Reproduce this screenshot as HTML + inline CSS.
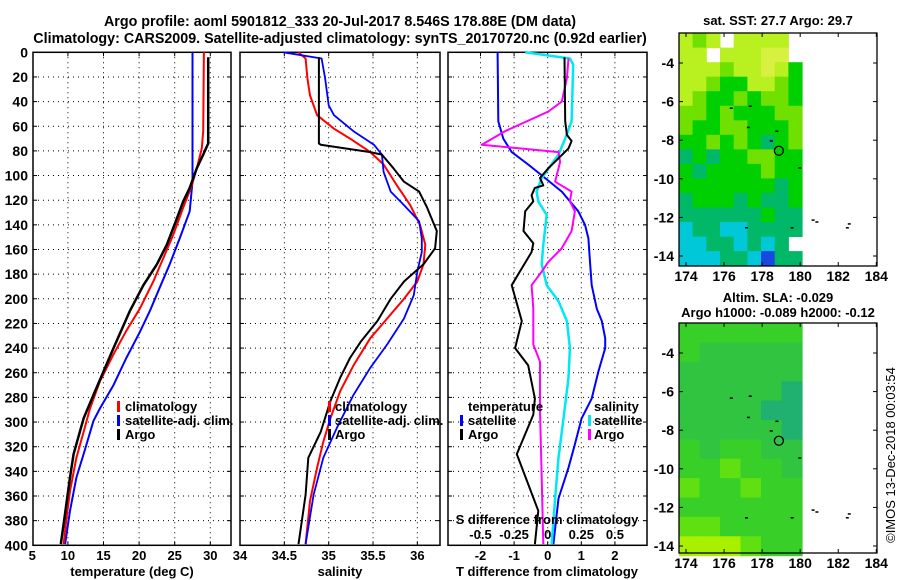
<!DOCTYPE html>
<html><head><meta charset="utf-8"><style>
body{margin:0;background:#fff}
svg{display:block;font-family:"Liberation Sans",sans-serif;font-weight:bold}
</style></head><body>
<svg id="c" width="900" height="580" xmlns="http://www.w3.org/2000/svg"></svg>
<script>
// ---- data ----
const depthTicks=[0,20,40,60,80,100,120,140,160,180,200,220,240,260,280,300,320,340,360,380,400];
const tempTicks=[5,10,15,20,25,30];
const salTicks=[34,34.5,35,35.5,36];
const salTickLabels=["34","34.5","35","35.5","36"];
const dTTicks=[-2,-1,0,1,2];
const dSTickLabels=["-0.5","-0.25","0","0.25","0.5"];
const dSTicks=[-0.5,-0.25,0,0.25,0.5];
const tempSatD=[0,105,129,151,172,191,210,227,248,270,289,299,326,345,372,399];
const tempSatV=[27.5,27.5,27.1,25.7,24.3,22.9,21.5,20.1,18.2,16.4,14.5,13.6,12.2,11.2,10.3,9.6];
const tempClimD=[0,64,78,94,108,126,148,167,186,208,226,245,267,289,308,329,356,378,399];
const tempClimV=[29.1,29.0,28.8,28.1,27.4,26.2,24.8,23.4,22.0,20.1,18.2,16.4,14.5,13.1,12.2,11.2,10.3,9.8,9.4];
const tempArgoD=[4,74,83,94,110,121,135,156,172,189,210,240,259,278,297,326,345,383,399];
const tempArgoV=[29.7,29.7,29.0,28.1,27.1,26.2,25.3,23.9,22.5,20.6,18.7,16.4,15.0,13.6,12.2,10.8,10.3,9.4,9.0];
const salClimD=[0,5,21,35,51,62,70,81,91,108,124,140,156,172,186,200,216,232,254,275,297,316,337,364,399];
const salClimV=[34.66,34.74,34.76,34.79,34.87,35.06,35.24,35.47,35.62,35.77,35.92,36.03,36.09,36.07,36.0,35.85,35.66,35.47,35.28,35.13,35.02,34.94,34.87,34.79,34.74];
const salSatD=[0,5,21,43,51,64,75,83,97,113,124,137,151,162,178,197,216,237,256,278,305,329,359,399];
const salSatV=[34.49,34.92,34.96,35.0,35.06,35.28,35.51,35.6,35.62,35.70,35.85,36.02,36.05,36.05,36.0,35.96,35.85,35.66,35.47,35.28,35.09,34.94,34.83,34.74];
const salArgoD=[4,74,75,81,83,94,105,113,126,145,159,172,186,200,218,235,248,264,283,308,329,359,399];
const salArgoV=[34.89,34.89,34.91,35.47,35.6,35.73,35.85,36.02,36.11,36.22,36.2,36.07,35.85,35.70,35.55,35.36,35.24,35.13,35.02,34.91,34.77,34.74,34.66];
const dTSatD=[0,56,70,81,91,102,113,129,140,151,170,189,208,218,232,240,259,281,297,318,337,362,399];
const dTSatV=[-1.49,-1.47,-1.32,-1.07,-0.58,-0.08,0.42,0.91,1.11,1.21,1.26,1.31,1.46,1.61,1.71,1.71,1.51,1.31,1.01,0.81,0.62,0.32,0.17];
const dSSatD=[0,5,10,56,70,83,102,113,121,132,156,172,189,202,218,240,264,297,329,362,399];
const dSSatV=[-0.67,0.66,0.76,0.71,0.52,0.32,-0.18,-0.33,-0.28,-0.03,-0.13,-0.18,-0.03,0.32,0.57,0.66,0.62,0.47,0.32,0.22,0.12];
const dSArgoD=[5,21,40,48,64,75,81,89,105,113,121,129,145,159,170,178,189,208,237,251,291,345,399];
const dSArgoV=[0.62,0.57,0.42,0.02,-1.27,-1.96,0.32,0.37,0.22,0.71,0.66,0.81,0.71,0.42,0.02,-0.18,-0.48,-0.43,-0.43,-0.23,-0.23,-0.18,-0.13];
const dTArgoD=[4,56,67,72,78,86,94,102,108,110,116,121,129,145,155,162,189,218,240,254,281,294,326,372,399];
const dTArgoV=[0.50,0.52,0.57,0.71,0.62,0.32,0.02,-0.23,-0.13,-0.38,-0.48,-0.43,-0.67,-0.72,-0.43,-0.48,-1.07,-0.77,-0.97,-0.58,-0.38,-0.43,-0.92,-0.28,-0.38];
const lonTicks=[174,176,178,180,182,184];
const latTicks=[-4,-6,-8,-10,-12,-14];
const sstGrid=[
[5,4,5,-1,5,5,5,5,-1],[5,5,-1,5,5,5,6,6,-1],[5,5,5,4,5,5,6,5,3],[5,5,4,3,3,5,5,4,3],
[5,4,3,3,4,3,4,4,3],[4,4,3,4,3,3,3,4,4],[4,3,3,4,4,3,3,3,4],[3,3,4,3,4,3,2,3,4],
[2,3,2,3,3,4,4,3,3],[3,2,3,3,3,3,4,3,3],[3,3,3,3,3,3,3,2,3],[2,3,3,3,2,3,2,2,3],
[2,2,2,2,2,2,3,2,2],[1,2,2,1,1,2,2,2,2],[1,1,2,2,1,2,1,2,-1],[1,1,1,2,2,1,0,2,2]];
const slaGrid=[
[2,2,2,2,2,2],[2,1,1,1,1,1],[1,1,1,1,1,1],[1,1,1,1,1,0],[1,1,1,1,0,0],[1,1,1,1,1,0],
[2,1,2,2,1,1],[2,2,3,2,2,1],[3,2,2,3,2,2],[2,2,2,2,2,2],[3,3,2,2,2,2],[4,4,4,3,2,2]];
const argoLon=178.88, argoLat=-8.546;

const NS="http://www.w3.org/2000/svg";
const svg=document.getElementById('c');
function mk(tag,attrs,parent){const e=document.createElementNS(NS,tag);for(const k in attrs)e.setAttribute(k,attrs[k]);(parent||svg).appendChild(e);return e;}
function txt(x,y,s,size,anchor,parent){const t=mk('text',{x:x,y:y,'font-size':size,'text-anchor':anchor||'middle'},parent);t.textContent=s;return t;}
const Y=d=>52.3+d*1.2325;
const X1=t=>32.3+(t-5)*7.12;
const X2=s=>240+(s-34)*88.67;
const X3=v=>547.7+v*33.6;
const panels=[{x0:33,x1:231,name:'temperature-panel'},{x0:240,x1:440,name:'salinity-panel'},{x0:448,x1:647,name:'difference-panel'}];
const gridV=[[10,15,20,25,30].map(X1),[34.5,35,35.5,36].map(X2),dTTicks.map(X3)];

panels.forEach((p,i)=>{
  const g=mk('g',{});
  
  
  depthTicks.slice(1,-1).forEach(d=>{mk('line',{x1:p.x0,x2:p.x1,y1:Y(d),y2:Y(d),stroke:'#000','stroke-width':1,'stroke-dasharray':'1,4'},g);
    mk('line',{x1:p.x0,x2:p.x0+4,y1:Y(d),y2:Y(d),stroke:'#000'},g);mk('line',{x1:p.x1-4,x2:p.x1,y1:Y(d),y2:Y(d),stroke:'#000'},g);});
  gridV[i].forEach(x=>{mk('line',{x1:x,x2:x,y1:Y(0),y2:Y(400),stroke:'#000','stroke-width':1,'stroke-dasharray':'1,4'},g);
    mk('line',{x1:x,x2:x,y1:Y(400)-4,y2:Y(400),stroke:'#000'},g);mk('line',{x1:x,x2:x,y1:Y(0),y2:Y(0)+4,stroke:'#000'},g);});
  mk('rect',{x:p.x0,y:Y(0),width:p.x1-p.x0,height:Y(400)-Y(0),fill:'none',stroke:'#000','stroke-width':1.5},g);
});

function line(D,V,X,color,w,name){
  const pts=D.map((d,i)=>X(V[i]).toFixed(1)+','+Y(d).toFixed(1)).join(' ');
  const e=mk('polyline',{points:pts,fill:'none',stroke:color,'stroke-width':w,'stroke-linejoin':'round'});
  
  
}
line(tempSatD,tempSatV,X1,'#0000ff',2,'temp-satellite-line');
line(tempClimD,tempClimV,X1,'#ff0000',2,'temp-climatology-line');
line(tempArgoD,tempArgoV,X1,'#000',2.5,'temp-argo-line');
line(salClimD,salClimV,X2,'#ff0000',2,'sal-climatology-line');
line(salSatD,salSatV,X2,'#0000ff',1.8,'sal-satellite-line');
line(salArgoD,salArgoV,X2,'#000',2,'sal-argo-line');
line(dTSatD,dTSatV,X3,'#0000ff',2,'dT-satellite-line');
line(dSSatD,dSSatV,X3,'#00e8f0',2.5,'dS-satellite-line');
line(dSArgoD,dSArgoV,X3,'#ff00ff',2,'dS-argo-line');
line(dTArgoD,dTArgoV,X3,'#000',2,'dT-argo-line');

depthTicks.forEach(d=>{const t=txt(28,Y(d)+5,String(d),14,'end');});
tempTicks.forEach(v=>{const t=txt(X1(v),560,String(v),13);});
salTicks.forEach((v,i)=>{const t=txt(X2(v),560,salTickLabels[i],13);});
dTTicks.forEach(v=>{const t=txt(X3(v),560,String(v),13);});
dSTicks.forEach((v,i)=>{const t=txt(X3(v*4),539,dSTickLabels[i],13);});
</script>
<script>
(function(){
const svg=document.getElementById('c');
function T(x,y,s,size,anchor,name,extra){const t=document.createElementNS("http://www.w3.org/2000/svg",'text');t.setAttribute('x',x);t.setAttribute('y',y);t.setAttribute('font-size',size);t.setAttribute('text-anchor',anchor);if(extra)for(const k in extra)t.setAttribute(k,extra[k]);t.textContent=s;


svg.appendChild(t);return t;}
function B(x,y,c){const r=document.createElementNS("http://www.w3.org/2000/svg",'rect');r.setAttribute('x',x);r.setAttribute('y',y);r.setAttribute('width',3);r.setAttribute('height',11);r.setAttribute('fill',c);


svg.appendChild(r);}
T(340,26,'Argo profile: aoml 5901812_333 20-Jul-2017 8.546S 178.88E (DM data)',14.3,'middle','title-line-1');
T(340,43,'Climatology: CARS2009. Satellite-adjusted climatology: synTS_20170720.nc (0.92d earlier)',14.3,'middle','title-line-2');
T(132,576,'temperature (deg C)',13,'middle','x-axis-title-temperature');
T(340,576,'salinity',13,'middle','x-axis-title-salinity');
T(547,576,'T difference from climatology',13,'middle','x-axis-title-dT');
T(547,524,'S difference from climatology',13,'middle','x-axis-title-dS');
[['climatology','#f00'],['satellite-adj. clim.','#00f'],['Argo','#000']].forEach((l,i)=>{B(117,401+i*14,l[1]);T(125,411+i*14,l[0],13,'start','legend-temp-'+i);});
[['climatology','#f00'],['satellite-adj. clim.','#00f'],['Argo','#000']].forEach((l,i)=>{B(328,401+i*14,l[1]);T(335,411+i*14,l[0],13,'start','legend-sal-'+i);});
T(468,411,'temperature',13,'start','legend-dT-heading');
B(460,415,'#00f');T(468,425,'satellite',13,'start','legend-dT-sat');
B(460,429,'#000');T(468,439,'Argo',13,'start','legend-dT-argo');
T(594,411,'salinity',13,'start','legend-dS-heading');
B(588,415,'#00e8f0');T(594,425,'satellite',13,'start','legend-dS-sat');
B(588,429,'#f0f');T(594,439,'Argo',13,'start','legend-dS-argo');
T(778,25,'sat. SST: 27.7 Argo: 29.7',13,'middle','sst-map-title');
T(778,302,'Altim. SLA: -0.029',13,'middle','sla-map-title');
T(778,317,'Argo h1000: -0.089 h2000: -0.12',13,'middle','sla-map-subtitle');
T(0,0,'©IMOS 13-Dec-2018 00:03:54',13,'middle','timestamp',{transform:'translate(895,455) rotate(-90)','font-weight':'normal'});
})();
</script>
<script>
(function(){
const NS="http://www.w3.org/2000/svg";
const svg=document.getElementById('c');
function mk(tag,a,p){const e=document.createElementNS(NS,tag);for(const k in a)e.setAttribute(k,a[k]);(p||svg).appendChild(e);return e;}
const sstCol=['#1848e0','#00c8d8','#00b868','#00d000','#70e000','#b8f020','#d8f040'];
const slaCol=['#20b070','#30c440','#38d028','#60e010','#a8f000'];
const maps=[{y0:33,y1:266,latAt:(l)=>63+(-4-l)*19.3,grid:sstGrid,col:sstCol,name:'sst-map'},
            {y0:323,y1:553,latAt:(l)=>353+(-4-l)*19.3,grid:slaGrid,col:slaCol,name:'sla-map'}];
const LX=l=>686+(l-174)*19.03;
maps.forEach(m=>{
  const g=mk('g',{});
  
  
  const rows=m.grid.length, cols=m.grid[0].length;
  const latTop=-2.45, latBot=-14.5, lonL=173.63, lonR=180.1;
  const dLat=(latTop-latBot)/rows, dLon=(lonR-lonL)/cols;
  m.grid.forEach((row,r)=>row.forEach((v,c)=>{
    if(v<0)return;
    const x=LX(lonL+c*dLon), y=m.latAt(latTop-r*dLat);
    const cell=mk('rect',{x:x.toFixed(1),y:y.toFixed(1),width:(LX(lonL+(c+1)*dLon)-x+0.5).toFixed(1),height:(m.latAt(latTop-(r+1)*dLat)-y+0.5).toFixed(1),fill:m.col[v]},g);
    
    
  }));
  [[180.6,-12.1],[180.8,-12.2],[182.5,-12.3],[182.4,-12.5],[179.5,-12.5],[177.1,-12.5],[179.9,-9.4],[178.4,-8],[178.7,-7.5],[177.2,-7.3],[177.3,-6.2],[176.3,-6.3]].forEach(p=>{
    mk('rect',{x:LX(p[0]),y:m.latAt(p[1]),width:3,height:1.5,fill:'#000'},g);});
  const circ=mk('circle',{cx:LX(argoLon),cy:m.latAt(argoLat),r:4.5,fill:'none',stroke:'#000','stroke-width':1.3},g);
  
  
  mk('rect',{x:679,y:m.y0,width:198,height:m.y1-m.y0,fill:'none',stroke:'#000','stroke-width':1.3},g);
  lonTicks.forEach(l=>{mk('line',{x1:LX(l),x2:LX(l),y1:m.y1,y2:m.y1-4,stroke:'#000'},g);mk('line',{x1:LX(l),x2:LX(l),y1:m.y0,y2:m.y0+4,stroke:'#000'},g);
    const t=mk('text',{x:LX(l),y:m.y1+15,'font-size':14,'text-anchor':'middle'},g);t.textContent=String(l);
    
    });
  latTicks.forEach(l=>{const y=m.latAt(l);mk('line',{x1:679,x2:683,y1:y,y2:y,stroke:'#000'},g);mk('line',{x1:873,x2:877,y1:y,y2:y,stroke:'#000'},g);
    const t=mk('text',{x:674,y:y+5,'font-size':14,'text-anchor':'end'},g);t.textContent=String(l);
    
    });
});
})();
</script>
</body></html>
